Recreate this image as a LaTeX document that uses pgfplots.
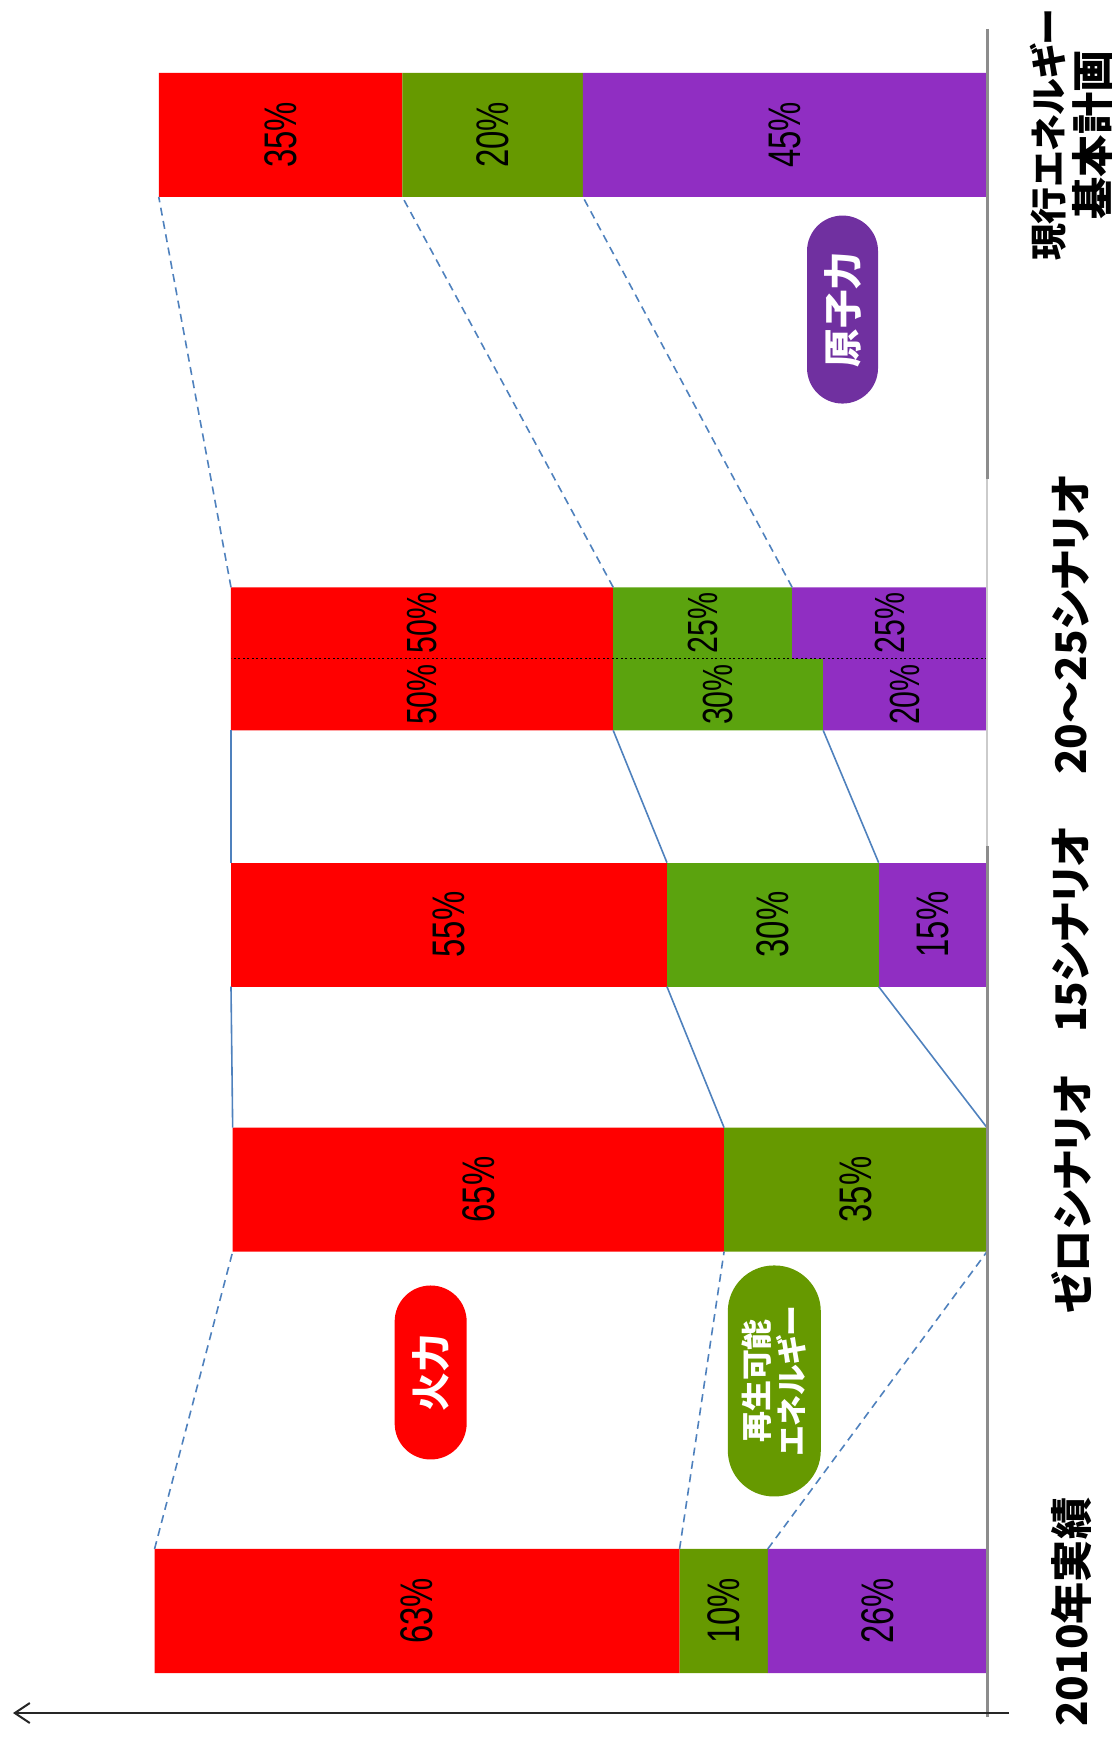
\documentclass[border=0pt]{standalone}
\usepackage{fontspec}
\usepackage{pgfplots}
\pgfplotsset{compat=1.18}
\usetikzlibrary{arrows.meta}
\setmainfont{Liberation Sans}
\newfontfamily\jp{Noto Sans CJK JP}[RawFeature=+palt]
\newfontfamily\pct{Liberation Sans}[FakeStretch=0.72]

\definecolor{kred}{HTML}{FF0000}
\definecolor{kgreen}{HTML}{669900}
\definecolor{kgreenb}{HTML}{5BA30E}
\definecolor{kpurple}{HTML}{902EC2}
\definecolor{pillpurple}{HTML}{7030A0}
\definecolor{link}{HTML}{4F81BD}
\definecolor{axgray}{HTML}{8C8C8C}

% shares of generation (percent); rows at y positions
\pgfplotsset{
  frame/.style={
    scale only axis, width=84mm, height=174.4mm,
    at={(14.7mm,0mm)}, anchor=south west,
    xmin=0, xmax=100, ymin=-0.5019, ymax=6.0792,
    x dir=reverse, enlargelimits=false,
    axis line style={draw=none}, major tick length=0pt,
    xtick=\empty, ytick=\empty,
  },
  sl/.style={mark=none, color=link, line width=0.16mm},
  dl/.style={sl, dash pattern=on 0.8mm off 0.55mm},
  pctlab/.style={draw=none, mark=none, black,
    nodes near coords={\pgfplotspointmeta\%},
    point meta=explicit symbolic,
    nodes near coords align=center,
    every node near coord/.append style={rotate=90, inner sep=0pt,
      font=\pct\fontsize{#1}{#1}\selectfont}},
}
\tikzset{pill/.style={text=white, inner sep=0pt, rotate=90, align=center}}

\begin{document}
\begin{tikzpicture}
\useasboundingbox (0,0) rectangle (111.2mm,174.4mm);

% full bars: 2010, zero, current plan
\begin{axis}[frame, xbar stacked, bar width=0.468]
\addplot[fill=kpurple, draw=none] coordinates {(26.1,0) (0,1.59) (48.1,5.57)};
\addplot[fill=kgreen, draw=none] coordinates {(10.5,0) (31.3,1.59) (21.5,5.57)};
\addplot[fill=kred, draw=none] coordinates {(62.5,0) (58.5,1.59) (29.0,5.57)};
\end{axis}

% 15 scenario
\begin{axis}[frame, xbar stacked, bar width=0.468]
\addplot[fill=kpurple, draw=none] coordinates {(12.9,2.59)};
\addplot[fill=kgreenb, draw=none] coordinates {(25.2,2.59)};
\addplot[fill=kred, draw=none] coordinates {(51.9,2.59)};
\end{axis}

% 20-25 scenario, two half bars
\begin{axis}[frame, xbar stacked, bar width=0.27]
\addplot[fill=kpurple, draw=none] coordinates {(23.2,3.728) (19.5,3.458)};
\addplot[fill=kgreenb, draw=none] coordinates {(21.3,3.728) (25.0,3.458)};
\addplot[fill=kred, draw=none] coordinates {(45.5,3.728) (45.5,3.458)};
\end{axis}

\begin{axis}[frame, clip=false,
    ytick={-0.005,1.57,2.57,3.72,5.57},
    yticklabel pos=right,
    yticklabels={2010年実績, ゼロシナリオ, 15シナリオ, 20～25シナリオ,
      {\fontsize{10.5}{12.5}\selectfont 現行エネルギー\\基本計画}},
    yticklabel style={xshift=8.4mm, rotate=90, anchor=center, align=center,
      font=\jp\bfseries\fontsize{12}{13}\selectfont}]
% series lines between bars
\addplot[dl] coordinates {(99.1,0.234) (89.8,1.356)};
\addplot[dl] coordinates {(36.6,0.234) (31.3,1.356)};
\addplot[dl] coordinates {(26.1,0.234) (0,1.356)};
\addplot[sl] coordinates {(89.8,1.824) (90.0,2.356)};
\addplot[sl] coordinates {(31.3,1.824) (38.1,2.356)};
\addplot[sl] coordinates {(0,1.824) (12.9,2.356)};
\addplot[sl] coordinates {(90.0,2.824) (90.0,3.323)};
\addplot[sl] coordinates {(38.1,2.824) (44.5,3.323)};
\addplot[sl] coordinates {(12.9,2.824) (19.5,3.323)};
\addplot[dl] coordinates {(90.0,3.863) (98.6,5.336)};
\addplot[dl] coordinates {(44.5,3.863) (69.6,5.336)};
\addplot[dl] coordinates {(23.2,3.863) (48.1,5.336)};
\addplot[mark=none, black, line width=0.12mm, dash pattern=on 0.2mm off 0.25mm]
  coordinates {(0,3.593) (90,3.593)};

% value labels
\addplot[pctlab=13] table[meta=lab] {
x y lab
13.05 0 26
31.35 0 10
67.85 0 63
15.65 1.59 35
60.55 1.59 65
6.45 2.59 15
25.5 2.59 30
64.05 2.59 55
24.05 5.57 45
58.85 5.57 20
84.1 5.57 35
};
\addplot[pctlab=12] table[meta=lab] {
x y lab
11.6 3.728 25
33.85 3.728 25
67.25 3.728 50
9.75 3.458 20
32.0 3.458 30
67.25 3.458 50
};

% source tags
\node[pill, fill=kred, minimum width=17.4mm, minimum height=7.2mm, rounded corners=3.6mm,
  font=\jp\bfseries\fontsize{11}{11}\selectfont] at (axis cs:66.23,0.9) {火力};
\node[pill, fill=kgreen, minimum width=23.1mm, minimum height=9.3mm, rounded corners=4.6mm,
  font=\jp\bfseries\fontsize{8.8}{10}\selectfont] at (axis cs:25.32,0.868) {再生可能\\エネルギー};
\node[pill, fill=pillpurple, minimum width=18.8mm, minimum height=7.1mm, rounded corners=3.55mm,
  font=\jp\bfseries\fontsize{11}{11}\selectfont] at (axis cs:17.2,4.911) {原子力};

% axes
\draw[axgray, line width=0.3mm] (axis cs:0,5.97) -- (axis cs:0,4.272);
\draw[axgray!45, line width=0.15mm] (axis cs:0,4.272) -- (axis cs:0,2.887);
\draw[axgray, line width=0.3mm] (axis cs:0,2.887) -- (axis cs:0,-0.4);
\draw[black!85, line width=0.2mm, -{Straight Barb[length=1.5mm,width=2mm]}]
  (axis cs:-2.62,-0.385) -- (axis cs:115.95,-0.385);
\end{axis}
\end{tikzpicture}
\end{document}
